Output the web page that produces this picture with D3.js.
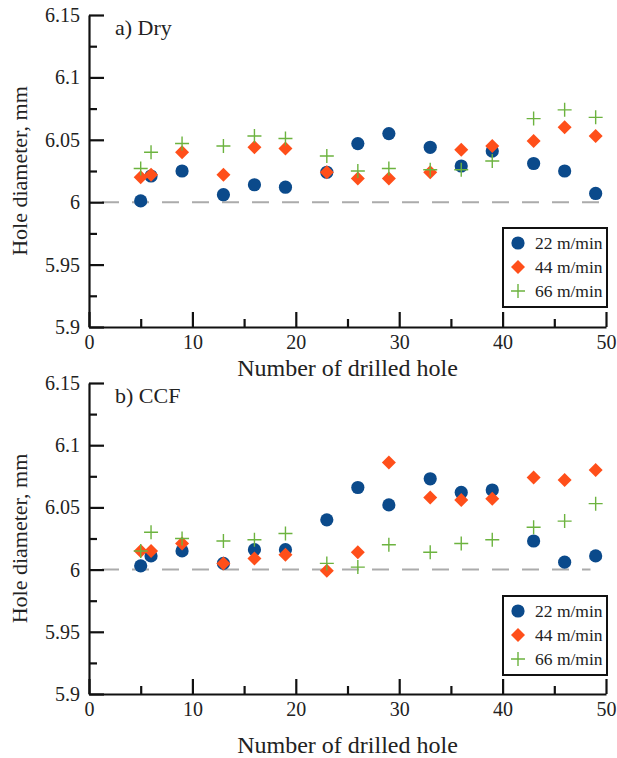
<!DOCTYPE html>
<html lang="en">
<head>
<meta charset="UTF-8">
<title>Hole diameter</title>
<script src="https://cdn.jsdelivr.net/npm/d3@7"></script>
<style>
  body { margin: 0; background: #fff; }
  svg text { font-family: "Liberation Serif", Tinos, "Times New Roman", Times, "DejaVu Serif", serif; fill: #222; }
</style>
</head>
<body>
<svg id="chart" width="617" height="758"></svg>
<script>
// number of drilled hole (same for every series)
var holes = [5, 6, 9, 13, 16, 19, 23, 26, 29, 33, 36, 39, 43, 46, 49];

// a) Dry
var dry22 = [6.001, 6.021, 6.025, 6.006, 6.014, 6.012, 6.024, 6.047, 6.055, 6.044, 6.029, 6.041, 6.031, 6.025, 6.007];
var dry44 = [6.020, 6.022, 6.040, 6.022, 6.044, 6.043, 6.024, 6.019, 6.019, 6.024, 6.042, 6.045, 6.049, 6.060, 6.053];
var dry66 = [6.027, 6.040, 6.047, 6.045, 6.053, 6.051, 6.037, 6.025, 6.027, 6.026, 6.026, 6.033, 6.067, 6.074, 6.068];

// b) CCF
var ccf22 = [6.003, 6.011, 6.015, 6.005, 6.016, 6.016, 6.040, 6.066, 6.052, 6.073, 6.062, 6.064, 6.023, 6.006, 6.011];
var ccf44 = [6.015, 6.015, 6.021, 6.005, 6.009, 6.012, 5.999, 6.014, 6.086, 6.058, 6.056, 6.057, 6.074, 6.072, 6.080];
var ccf66 = [6.015, 6.030, 6.025, 6.023, 6.024, 6.029, 6.005, 6.002, 6.020, 6.014, 6.021, 6.024, 6.034, 6.039, 6.053];

var seriesNames = ["22 m/min", "44 m/min", "66 m/min"];
var yMajor = [5.9, 5.95, 6, 6.05, 6.1, 6.15];
var yMinor = [5.925, 5.975, 6.025, 6.075, 6.125];
var xMajor = [0, 10, 20, 30, 40, 50];
var xMinor = [5, 15, 25, 35, 45];

var colors = ["#0b4a8b", "#ff4f1a", "#6cb33f"];
var serif = "'Liberation Serif', Tinos, 'Times New Roman', Times, 'DejaVu Serif', serif";

var svg = d3.select("#chart");

var left = 89, right = 606;
var x = d3.scaleLinear().domain([0, 50]).range([left, right]);

var panels = [
  { label: "a) Dry", top: 15, bottom: 327, data: [dry22, dry44, dry66], refEnd: 50, titleY: 376 },
  { label: "b) CCF", top: 383, bottom: 694, data: [ccf22, ccf44, ccf66], refEnd: 48.5, titleY: 753 }
];

// marker drawing helper
function drawMarker(g, type, cx, cy) {
  if (type === 0) {
    g.append("circle").attr("cx", cx).attr("cy", cy).attr("r", 6.6).attr("fill", colors[0]);
  } else if (type === 1) {
    g.append("path")
      .attr("d", "M" + cx + "," + (cy - 7) + "L" + (cx + 7) + "," + cy + "L" + cx + "," + (cy + 7) + "L" + (cx - 7) + "," + cy + "Z")
      .attr("fill", colors[1]);
  } else {
    g.append("path")
      .attr("d", "M" + (cx - 7) + "," + cy + "H" + (cx + 7) + "M" + cx + "," + (cy - 7) + "V" + (cy + 7))
      .attr("stroke", colors[2]).attr("stroke-width", 1.4).attr("fill", "none");
  }
}

panels.forEach(function(p) {
  var y = d3.scaleLinear().domain([5.9, 6.15]).range([p.bottom, p.top]);
  var g = svg.append("g");

  // reference line at 6 mm
  g.append("line")
    .attr("x1", x(0)).attr("x2", x(p.refEnd))
    .attr("y1", y(6)).attr("y2", y(6))
    .attr("stroke", "#ababab").attr("stroke-width", 2)
    .attr("stroke-dasharray", "17,13")
    .attr("stroke-dashoffset", -13);

  // points
  var pts = g.append("g");
  p.data.forEach(function(vals, si) {
    vals.forEach(function(v, i) {
      drawMarker(pts, si, x(holes[i]), y(v));
    });
  });

  // y axis
  var yAxis = g.append("g").attr("transform", "translate(" + left + ",0)")
    .call(d3.axisLeft(y).tickValues(yMajor).tickSizeInner(-15).tickSizeOuter(0)
      .tickPadding(9).tickFormat(d3.format("~g")));
  var yMin = g.append("g").attr("transform", "translate(" + left + ",0)")
    .call(d3.axisLeft(y).tickValues(yMinor).tickSizeInner(-8).tickSizeOuter(0).tickFormat(""));

  // x axis
  var xAxis = g.append("g").attr("transform", "translate(0," + p.bottom + ")")
    .call(d3.axisBottom(x).tickValues(xMajor).tickSizeInner(-15).tickSizeOuter(0)
      .tickPadding(8).tickFormat(d3.format("d")));
  var xMin = g.append("g").attr("transform", "translate(0," + p.bottom + ")")
    .call(d3.axisBottom(x).tickValues(xMinor).tickSizeInner(-8).tickSizeOuter(0).tickFormat(""));

  [yAxis, yMin, xAxis, xMin].forEach(function(a) {
    a.attr("font-family", serif);
    a.selectAll(".domain").attr("stroke", "#111").attr("stroke-width", 2.2);
    a.selectAll(".tick line").attr("stroke", "#111").attr("stroke-width", 2.2);
    a.selectAll(".tick text").attr("font-size", 20).attr("fill", "#222");
  });
  yMin.select(".domain").remove();
  xMin.select(".domain").remove();
  xAxis.selectAll(".tick text").attr("dy", "0.72em");

  // panel label
  g.append("text").attr("x", 115).attr("y", p.top + 20)
    .attr("font-size", 22).text(p.label);

  // axis titles
  g.append("text")
    .attr("transform", "translate(27," + ((p.top + p.bottom) / 2) + ") rotate(-90)")
    .attr("text-anchor", "middle").attr("font-size", 22)
    .text("Hole diameter, mm");
  g.append("text")
    .attr("x", (left + right) / 2).attr("y", p.titleY)
    .attr("text-anchor", "middle").attr("font-size", 24)
    .text("Number of drilled hole");

  // legend
  var lg = g.append("g").attr("transform", "translate(503," + (p.top + 213) + ")");
  lg.append("rect").attr("width", 104).attr("height", 79)
    .attr("fill", "#fff").attr("stroke", "#111").attr("stroke-width", 2);
  seriesNames.forEach(function(name, si) {
    var cy = 15 + si * 24;
    drawMarker(lg, si, 15, cy);
    lg.append("text").attr("x", 32).attr("y", cy + 6)
      .attr("font-size", 17.5).text(name);
  });

  svg.selectAll("text").attr("font-family", serif);
});
</script>
</body>
</html>
